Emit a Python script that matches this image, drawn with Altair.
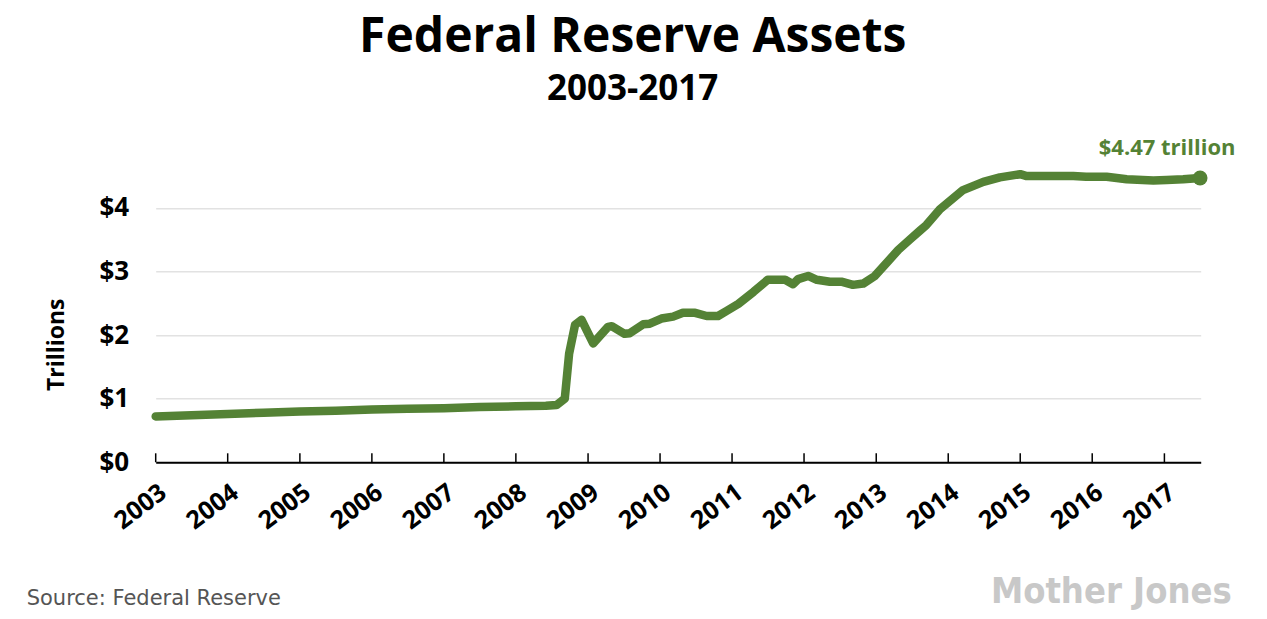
import altair as alt
import pandas as pd

# ---- data ----
dates = [
    "2003-01-01", "2003-07-01", "2004-01-01", "2004-07-01", "2005-01-01",
    "2005-07-01", "2006-01-01", "2006-07-01", "2007-01-01", "2007-07-01",
    "2008-01-01", "2008-06-01", "2008-07-25", "2008-09-05", "2008-09-27",
    "2008-10-27", "2008-11-29", "2009-01-27", "2009-04-12", "2009-05-01",
    "2009-07-05", "2009-07-31", "2009-10-08", "2009-11-10", "2010-01-08",
    "2010-03-08", "2010-04-27", "2010-06-28", "2010-08-25", "2010-10-22",
    "2010-12-05", "2011-02-02", "2011-04-20", "2011-07-01", "2011-09-27",
    "2011-11-06", "2011-12-02", "2012-01-22", "2012-03-06", "2012-05-11",
    "2012-07-08", "2012-09-05", "2012-10-27", "2012-12-25", "2013-02-24",
    "2013-04-23", "2013-06-20", "2013-08-10", "2013-09-12", "2013-11-20",
    "2014-03-17", "2014-06-28", "2014-09-20", "2015-01-01", "2015-02-03",
    "2015-05-31", "2015-09-27", "2015-12-01", "2016-03-14", "2016-06-24",
    "2016-11-06", "2017-01-12", "2017-04-06", "2017-07-01",
]
values = [
    0.72, 0.74, 0.76, 0.78, 0.80,
    0.81, 0.83, 0.84, 0.85, 0.87,
    0.88, 0.89, 0.90, 1.00, 1.71,
    2.16, 2.24, 1.87, 2.13, 2.14,
    2.02, 2.03, 2.17, 2.18, 2.26,
    2.29, 2.35, 2.35, 2.30, 2.30,
    2.38, 2.49, 2.68, 2.87, 2.87,
    2.80, 2.88, 2.93, 2.87, 2.84,
    2.84, 2.79, 2.81, 2.93, 3.14,
    3.34, 3.50, 3.64, 3.73, 3.98,
    4.28, 4.41, 4.48, 4.53, 4.50,
    4.50, 4.50, 4.49, 4.49, 4.45,
    4.43, 4.44, 4.45, 4.47,
]
tick_years = list(range(2003, 2018))
y_ticks = [0, 1, 2, 3, 4]
last_label = "$4.47 trillion"
title_text = "Federal Reserve Assets"
subtitle_text = "2003-2017"
source_text = "Source: Federal Reserve"
logo_text = "Mother Jones"

GREEN = "#548235"
W, H = 1045, 318

df = pd.DataFrame({"date": [d + "T00:00:00" for d in dates], "value": values})
ticks_df = pd.DataFrame({"date": [f"{y}-01-01T00:00:00" for y in tick_years]})
last_df = df.tail(1).assign(label=last_label)

x_scale = alt.Scale(domain=[alt.DateTime(year=2003, month=1, date=1),
                            alt.DateTime(year=2017, month=7, date=4)])
y_scale = alt.Scale(domain=[0, 5])

x_axis = alt.Axis(
    values=[alt.DateTime(year=y, month=1, date=1) for y in tick_years],
    format="%Y", title=None, grid=False, ticks=False,
    domainColor="black", domainWidth=2,
    labelAngle=-37, labelAlign="right", labelBaseline="top", labelPadding=17,
    labelFont="Open Sans", labelFontWeight="bold", labelFontSize=25,
    labelColor="black",
)
y_axis = alt.Axis(
    values=y_ticks, labelExpr="'$' + datum.value", domain=False, ticks=False,
    grid=True, gridColor="#e2e2e2", gridWidth=1.5,
    labelPadding=27, labelFont="Open Sans", labelFontWeight="bold",
    labelFontSize=26, labelColor="black",
    title="Trillions", titleFont="Open Sans", titleFontWeight="bold",
    titleFontSize=23, titleColor="black", titleAngle=-90,
    titleX=-99, titleY=200, titleAlign="center", titleBaseline="middle",
)

x_enc = alt.X("date:T", scale=x_scale, axis=x_axis)
y_enc = alt.Y("value:Q", scale=y_scale, axis=y_axis)

line = alt.Chart(df).mark_line(
    color=GREEN, strokeWidth=8.5, strokeCap="round", strokeJoin="round"
).encode(x=x_enc, y=y_enc)

tick_marks = alt.Chart(ticks_df).mark_rule(color="black", strokeWidth=1.5).encode(
    x=alt.X("date:T", scale=x_scale), y=alt.value(H), y2=alt.value(H - 9)
)

dot = alt.Chart(last_df).mark_circle(size=220, color=GREEN, opacity=1).encode(
    x=alt.X("date:T", scale=x_scale), y=alt.Y("value:Q", scale=y_scale)
)

label = alt.Chart(last_df).mark_text(
    font="Open Sans", fontWeight="bold", fontSize=22, color=GREEN,
    align="center", baseline="alphabetic", dx=-33, dy=-23,
).encode(x=alt.X("date:T", scale=x_scale), y=alt.Y("value:Q", scale=y_scale),
         text="label:N")

source = alt.Chart(pd.DataFrame({"t": [source_text]})).mark_text(
    font="DejaVu Sans", fontSize=21, color="#555555", align="left",
    baseline="alphabetic",
).encode(x=alt.value(-129), y=alt.value(461), text="t:N")

logo = alt.Chart(pd.DataFrame({"t": [logo_text]})).mark_text(
    font="DejaVu Sans Condensed, Roboto Condensed, Liberation Sans",
    fontWeight="bold", fontSize=36,
    color="#c8c8c8", align="right", baseline="alphabetic",
).encode(x=alt.value(1076), y=alt.value(459), text="t:N")

chart = alt.layer(line, tick_marks, dot, label, source, logo).properties(
    width=W, height=H,
    autosize=alt.AutoSizeParams(type="none"),
    padding={"left": 147.7, "top": 136.3, "right": 57.3, "bottom": 154},
    title=alt.TitleParams(
        text=title_text, subtitle=subtitle_text, anchor="middle", dx=-45.5,
        font="Open Sans", fontSize=48, fontWeight="bold", color="black",
        subtitleFont="Open Sans", subtitleFontSize=35,
        subtitleFontWeight="bold", subtitleColor="black",
        offset=30, subtitlePadding=10,
    ),
).configure(background="white").configure_view(stroke=None)

chart.save("out.html", embed_options={"renderer": "svg", "actions": False})
